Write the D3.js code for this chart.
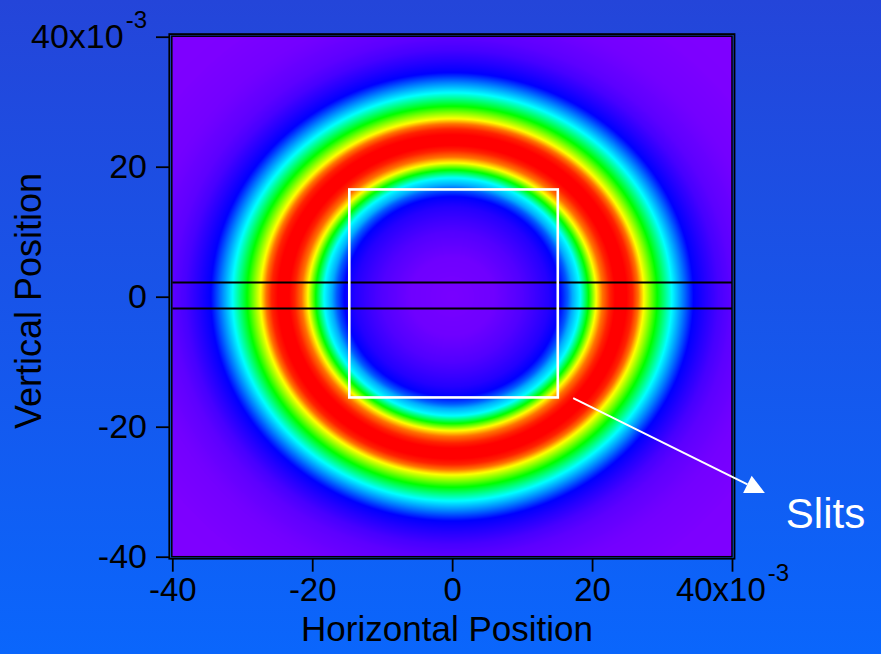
<!DOCTYPE html>
<html>
<head>
<meta charset="utf-8">
<script src="https://cdn.jsdelivr.net/npm/d3@7"></script>
<style>
  html, body { margin: 0; padding: 0; background: #1650ec; }
  svg { display: block; }
  text { font-family: "Liberation Sans", Arial, sans-serif; }
</style>
</head>
<body>
<svg id="chart" width="881" height="654"></svg>
<script>
// Radial profile of the donut beam: radius (x10^-3) and colour level (0 = violet, 1 = red)
const profileRadius = [0, 6, 10, 12, 13.8, 15.4, 16.5, 17.2, 18.3, 19.5, 20.6, 21.5, 22.5, 23.3, 24.9, 25.8, 26.6, 27.4, 29.3, 31.4, 33.0, 34.5, 36.2, 38.0, 40.0, 44.0, 50.0, 60.0];
const profileLevel  = [0.007, 0.015, 0.04, 0.06, 0.08, 0.111, 0.19, 0.26, 0.333, 0.556, 0.778, 0.9, 0.97, 1, 1, 0.97, 0.9, 0.778, 0.556, 0.333, 0.22, 0.111, 0.08, 0.05, 0.03, 0.012, 0.003, 0];

// Rainbow colour table, low (violet) to high (red)
const colorStops  = [0, 1 / 9, 3 / 9, 5 / 9, 7 / 9, 1];
const colorValues = ["#8000ff", "#0000ff", "#00ffff", "#00ff00", "#ffff00", "#ff0000"];

// Axis ticks (x10^-3)
const xTickValues = [-40, -20, 0, 20, 40];
const xTickLabels = ["-40", "-20", "0", "20", "40x10"];
const yTickValues = [-40, -20, 0, 20, 40];
const yTickLabels = ["-40", "-20", "0", "20", "40x10"];
const tickExponent = "-3";

// Slit selection: square window and the horizontal slit (x10^-3)
const squareX = [-14.7, 15.1];
const squareY = [-15.5, 16.5];
const slitY = [2.2, -1.8];

// Annotation (x10^-3)
const noteText = "Slits";
const arrowFrom = [17.3, -15.6];
const arrowTip = [44.7, -30.2];
const notePos = [47.7, -35.6];

const width = 881, height = 654;
const plot = { left: 172.3, right: 732, top: 36.7, bottom: 556.7 };

const svg = d3.select("#chart");

// background gradient
const defs = svg.append("defs");
const grad = defs.append("linearGradient").attr("id", "bg").attr("x1", 0).attr("y1", 0).attr("x2", 0).attr("y2", 1);
grad.append("stop").attr("offset", "0%").attr("stop-color", "#2445d9");
grad.append("stop").attr("offset", "100%").attr("stop-color", "#0a66fc");
svg.append("rect").attr("width", width).attr("height", height).attr("fill", "url(#bg)");

const x = d3.scaleLinear().domain([-40, 40]).range([plot.left, plot.right]);
const y = d3.scaleLinear().domain([-40, 40]).range([plot.bottom, plot.top]);

const radial = d3.scaleLinear().domain(profileRadius).range(profileLevel).clamp(true);
const color = d3.scaleLinear().domain(colorStops).range(colorValues).clamp(true);

// colour lookup table
const lutSize = 1024;
const lut = d3.range(lutSize).map(i => d3.rgb(color(i / (lutSize - 1))));

// intensity image
const imgW = Math.round(plot.right - plot.left);
const imgH = Math.round(plot.bottom - plot.top);
const canvas = document.createElement("canvas");
canvas.width = imgW; canvas.height = imgH;
const ctx = canvas.getContext("2d");
const img = ctx.createImageData(imgW, imgH);
for (let j = 0; j < imgH; j++) {
  const dy = y.invert(plot.top + (j + 0.5) * (plot.bottom - plot.top) / imgH);
  for (let i = 0; i < imgW; i++) {
    const dx = x.invert(plot.left + (i + 0.5) * (plot.right - plot.left) / imgW);
    const lvl = radial(Math.hypot(dx, dy));
    const c = lut[Math.round(lvl * (lutSize - 1))];
    const k = (j * imgW + i) * 4;
    img.data[k] = c.r; img.data[k + 1] = c.g; img.data[k + 2] = c.b; img.data[k + 3] = 255;
  }
}
ctx.putImageData(img, 0, 0);
svg.append("image")
  .attr("x", plot.left).attr("y", plot.top)
  .attr("width", plot.right - plot.left).attr("height", plot.bottom - plot.top)
  .attr("preserveAspectRatio", "none")
  .attr("href", canvas.toDataURL());

// slit lines
svg.append("g").selectAll("line").data(slitY).join("line")
  .attr("x1", plot.left).attr("x2", plot.right)
  .attr("y1", d => y(d)).attr("y2", d => y(d))
  .attr("stroke", "#000").attr("stroke-width", 2);

// square window
svg.append("rect")
  .attr("x", x(squareX[0])).attr("y", y(squareY[1]))
  .attr("width", x(squareX[1]) - x(squareX[0]))
  .attr("height", y(squareY[0]) - y(squareY[1]))
  .attr("fill", "none").attr("stroke", "#fff").attr("stroke-width", 2.6);

// double frame
svg.append("rect")
  .attr("x", plot.left - 0.5).attr("y", plot.top - 0.5)
  .attr("width", plot.right - plot.left + 0.5).attr("height", plot.bottom - plot.top + 0.5)
  .attr("fill", "none").attr("stroke", "#000").attr("stroke-width", 1.5);
svg.append("rect")
  .attr("x", plot.left - 3).attr("y", plot.top - 2.6)
  .attr("width", plot.right - plot.left + 5.5).attr("height", plot.bottom - plot.top + 4.6)
  .attr("fill", "none").attr("stroke", "#000").attr("stroke-width", 1.8);

// axes
function styleAxis(g, values, labels, size) {
  g.select(".domain").remove();
  g.selectAll(".tick line").attr("stroke", "#000").attr("stroke-width", 1.8);
  g.selectAll(".tick text")
    .attr("fill", "#000")
    .style("font-size", size + "px")
    .text(null)
    .each(function (d) {
      const t = d3.select(this);
      t.append("tspan").text(labels[values.indexOf(d)]);
      if (d === 40) {
        t.append("tspan").attr("dx", "2px").attr("dy", "-20px").style("font-size", "24px").text(tickExponent);
      }
    });
}

const xAxis = svg.append("g")
  .attr("transform", `translate(0,${plot.bottom + 2})`)
  .call(d3.axisBottom(x).tickValues(xTickValues).tickSize(13).tickPadding(6).tickSizeOuter(0));
styleAxis(xAxis, xTickValues, xTickLabels, 33);

const yAxis = svg.append("g")
  .attr("transform", `translate(${plot.left - 3.3},0)`)
  .call(d3.axisLeft(y).tickValues(yTickValues).tickSize(13).tickPadding(9).tickSizeOuter(0));
styleAxis(yAxis, yTickValues, yTickLabels, 34);

// axis titles
svg.append("text")
  .attr("x", 447).attr("y", 641)
  .attr("text-anchor", "middle")
  .style("font-size", "35px").attr("fill", "#000")
  .text("Horizontal Position");
svg.append("text")
  .attr("transform", "translate(41,301) rotate(-90)")
  .attr("text-anchor", "middle")
  .style("font-size", "36px").attr("fill", "#000")
  .text("Vertical Position");

// annotation arrow
const tip = [x(arrowTip[0]), y(arrowTip[1])];
const from = [x(arrowFrom[0]), y(arrowFrom[1])];
const ang = Math.atan2(tip[1] - from[1], tip[0] - from[0]);
const headLen = 19.5, headHalf = 9.6;
const base = [tip[0] - headLen * Math.cos(ang), tip[1] - headLen * Math.sin(ang)];
svg.append("line")
  .attr("x1", from[0]).attr("y1", from[1])
  .attr("x2", base[0]).attr("y2", base[1])
  .attr("stroke", "#fff").attr("stroke-width", 2);
svg.append("path")
  .attr("d", d3.line()([
    tip,
    [base[0] + headHalf * Math.sin(ang), base[1] - headHalf * Math.cos(ang)],
    [base[0] - headHalf * Math.sin(ang), base[1] + headHalf * Math.cos(ang)]
  ]) + "Z")
  .attr("fill", "#fff");
svg.append("text")
  .attr("x", x(notePos[0])).attr("y", y(notePos[1]))
  .style("font-size", "42px").attr("fill", "#fff")
  .text(noteText);
</script>
</body>
</html>
